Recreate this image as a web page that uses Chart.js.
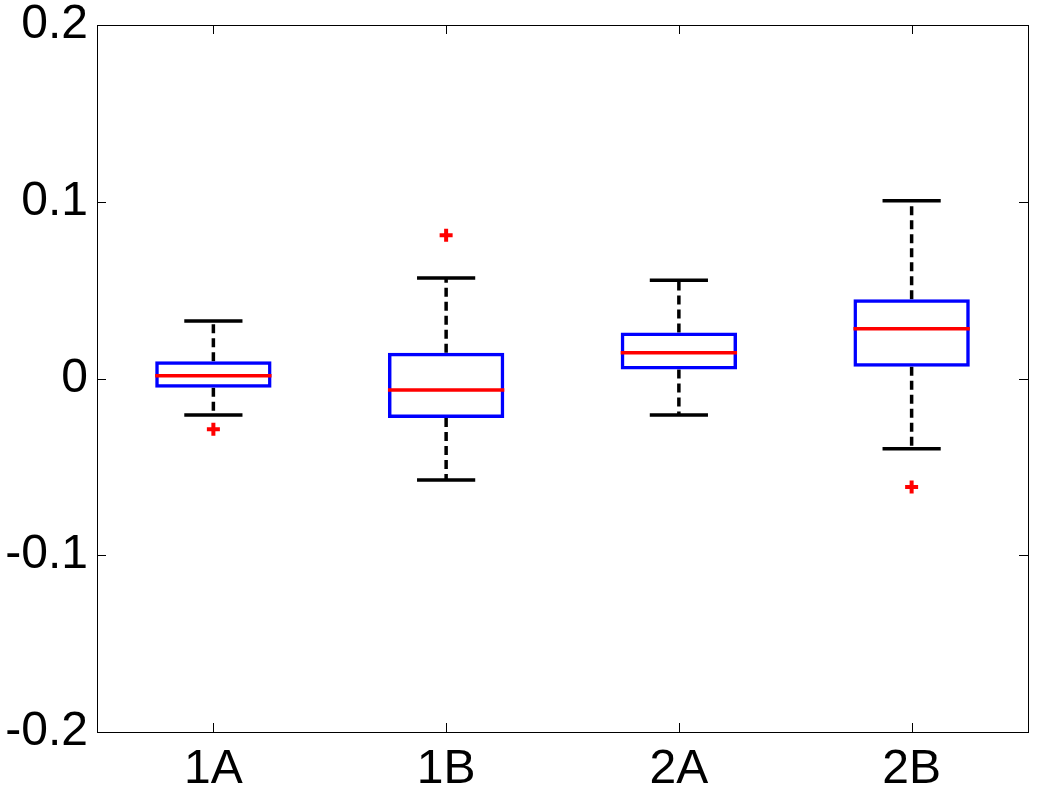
<!DOCTYPE html>
<html>
<head>
<meta charset="utf-8">
<script src="https://cdn.jsdelivr.net/npm/chart.js@4.4.1/dist/chart.umd.min.js"></script>
<style>
  html, body { margin: 0; padding: 0; background: #ffffff; }
  #wrap { width: 1039px; height: 797px; }
</style>
</head>
<body>
<div id="wrap"><canvas id="boxChart" width="1039" height="797"></canvas></div>
<script>
// box plot values
const categories = ['1A', '1B', '2A', '2B'];
const q1 = [-0.0053, -0.0223, 0.0051, 0.0066];
const q3 = [0.0098, 0.0145, 0.0260, 0.0449];
const medians = [0.0015, -0.0065, 0.0145, 0.0281];
const whiskerLow = [-0.0206, -0.0574, -0.0206, -0.0398];
const whiskerHigh = [0.0326, 0.0569, 0.0556, 0.1005];
const outliers = [-0.0287, 0.0811, null, -0.0614];
const yTickValues = [-0.2, -0.1, 0, 0.1, 0.2];
const yTickLabels = ['-0.2', '-0.1', '0', '0.1', '0.2'];

const FONT = "'Liberation Sans', Arial, Helvetica, sans-serif";

// whiskers, caps, medians, frame and inward ticks (matlab look)
const boxPlotExtras = {
    id: 'boxPlotExtras',
    beforeDatasetsDraw(chart) {
        const x = chart.scales.x, y = chart.scales.y;
        const catW = x.getPixelForValue(1) - x.getPixelForValue(0);
        const capHalf = catW * 0.125;
        const ctx = chart.ctx;
        ctx.save();
        ctx.strokeStyle = '#000000';
        categories.forEach((c, i) => {
            const cx = x.getPixelForValue(i);
            // dashed whiskers
            ctx.lineWidth = 3.5;
            ctx.setLineDash([9, 5]);
            ctx.beginPath();
            ctx.moveTo(cx, y.getPixelForValue(q3[i]));
            ctx.lineTo(cx, y.getPixelForValue(whiskerHigh[i]));
            ctx.moveTo(cx, y.getPixelForValue(q1[i]));
            ctx.lineTo(cx, y.getPixelForValue(whiskerLow[i]));
            ctx.stroke();
            // caps
            ctx.setLineDash([]);
            ctx.lineWidth = 3.5;
            ctx.beginPath();
            [whiskerHigh[i], whiskerLow[i]].forEach(v => {
                const py = y.getPixelForValue(v);
                ctx.moveTo(cx - capHalf, py);
                ctx.lineTo(cx + capHalf, py);
            });
            ctx.stroke();
        });
        ctx.restore();
    },
    afterDatasetsDraw(chart) {
        const x = chart.scales.x, y = chart.scales.y;
        const catW = x.getPixelForValue(1) - x.getPixelForValue(0);
        const boxHalf = catW * 0.25;
        const ctx = chart.ctx;
        ctx.save();
        ctx.strokeStyle = '#ff0000';
        ctx.lineWidth = 3.5;
        ctx.beginPath();
        medians.forEach((m, i) => {
            const cx = x.getPixelForValue(i);
            const py = y.getPixelForValue(m);
            ctx.moveTo(cx - boxHalf, py);
            ctx.lineTo(cx + boxHalf, py);
        });
        ctx.stroke();
        ctx.restore();
    },
    afterDraw(chart) {
        const a = chart.chartArea;
        const x = chart.scales.x, y = chart.scales.y;
        const ctx = chart.ctx;
        const tl = 9;
        ctx.save();
        ctx.strokeStyle = '#000000';
        ctx.lineWidth = 1;
        ctx.strokeRect(Math.round(a.left) + 0.5, Math.round(a.top) + 0.5,
            Math.round(a.right - a.left), Math.round(a.bottom - a.top));
        ctx.beginPath();
        yTickValues.forEach(v => {
            const py = Math.round(y.getPixelForValue(v)) + 0.5;
            ctx.moveTo(a.left, py); ctx.lineTo(a.left + tl, py);
            ctx.moveTo(a.right, py); ctx.lineTo(a.right - tl, py);
        });
        categories.forEach((c, i) => {
            const px = Math.round(x.getPixelForValue(i)) + 0.5;
            ctx.moveTo(px, a.bottom); ctx.lineTo(px, a.bottom - tl);
            ctx.moveTo(px, a.top); ctx.lineTo(px, a.top + tl);
        });
        ctx.stroke();
        ctx.restore();
    }
};

const ctx = document.getElementById('boxChart').getContext('2d');
const boxChart = new Chart(ctx, {
    data: {
        labels: categories,
        datasets: [
            {
                type: 'bar',
                label: 'IQR',
                data: q1.map((v, i) => [v, q3[i]]),
                backgroundColor: 'rgba(0,0,0,0)',
                borderColor: '#0000ff',
                borderWidth: 3.5,
                borderSkipped: false,
                barPercentage: 0.5,
                categoryPercentage: 1.0,
                order: 2
            },
            {
                type: 'line',
                label: 'Outliers',
                data: outliers,
                showLine: false,
                pointStyle: 'cross',
                pointRadius: 6.5,
                pointBorderWidth: 4,
                pointBorderColor: '#ff0000',
                borderColor: '#ff0000',
                order: 1
            }
        ]
    },
    options: {
        responsive: false,
        animation: false,
        layout: { padding: { top: 25, right: 11, left: 0, bottom: 0 } },
        plugins: {
            legend: { display: false },
            tooltip: { enabled: false }
        },
        scales: {
            x: {
                type: 'category',
                offset: true,
                grid: { display: false, drawTicks: false },
                border: { display: false },
                ticks: {
                    color: '#000000',
                    font: { family: FONT, size: 48 },
                    padding: 9,
                    maxRotation: 0
                },
                afterFit(scale) { scale.height = 65; }
            },
            y: {
                type: 'linear',
                min: -0.2,
                max: 0.2,
                grid: { display: false, drawTicks: false },
                border: { display: false },
                afterBuildTicks(scale) {
                    scale.ticks = yTickValues.map(v => ({ value: v }));
                },
                ticks: {
                    color: '#000000',
                    font: { family: FONT, size: 48 },
                    padding: 9,
                    callback: (value, index) => yTickLabels[index]
                },
                afterFit(scale) {
                    scale.width = 97;
                    scale.paddingTop = 0;
                    scale.paddingBottom = 0;
                }
            }
        }
    },
    plugins: [boxPlotExtras]
});
</script>
</body>
</html>
